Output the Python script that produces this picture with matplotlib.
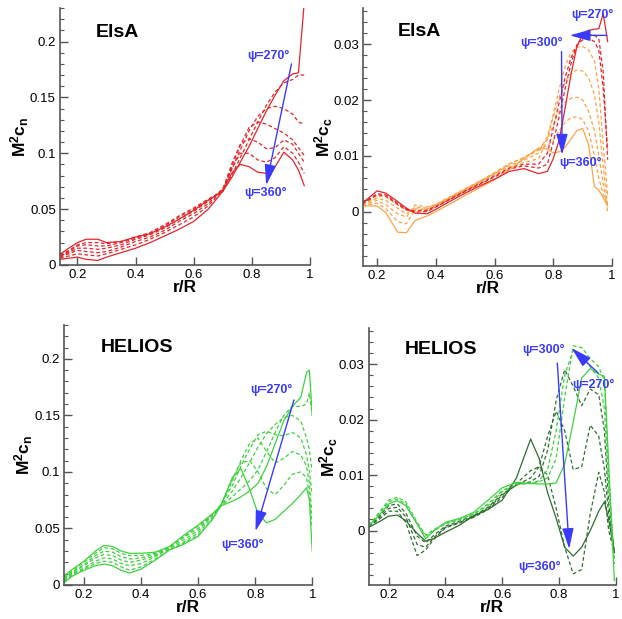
import matplotlib
matplotlib.use("Agg")
import matplotlib.pyplot as plt
from matplotlib.ticker import MultipleLocator, FuncFormatter

plt.rcParams['font.family'] = ['Liberation Sans', 'DejaVu Sans']
plt.rcParams['mathtext.fontset'] = 'custom'
plt.rcParams['mathtext.rm'] = 'Liberation Sans'
plt.rcParams['mathtext.bf'] = 'Liberation Sans:bold'

# ---------------- ElsA, M2cn ----------------
r_elsa_cn = [0.14, 0.17, 0.2, 0.23, 0.27, 0.3, 0.35, 0.4, 0.45, 0.5, 0.55, 0.6, 0.65,
             0.7, 0.73, 0.76, 0.79, 0.82, 0.85, 0.88, 0.91, 0.94, 0.96, 0.98]
elsa_cn_270 = [0.005, 0.006, 0.007, 0.005, 0.004, 0.007, 0.011, 0.015, 0.020, 0.026, 0.032, 0.039, 0.050,
               0.066, 0.078, 0.092, 0.106, 0.122, 0.138, 0.152, 0.165, 0.171, 0.172, 0.235]
elsa_cn_285 = [0.006, 0.008, 0.010, 0.009, 0.008, 0.010, 0.014, 0.018, 0.023, 0.029, 0.036, 0.043, 0.053,
               0.067, 0.080, 0.096, 0.112, 0.128, 0.143, 0.155, 0.163, 0.166, 0.170, 0.170]
elsa_cn_300 = [0.007, 0.010, 0.013, 0.012, 0.011, 0.012, 0.016, 0.021, 0.025, 0.031, 0.039, 0.046, 0.055,
               0.068, 0.085, 0.103, 0.120, 0.133, 0.140, 0.142, 0.140, 0.135, 0.128, 0.126]
elsa_cn_315 = [0.008, 0.011, 0.015, 0.015, 0.014, 0.015, 0.018, 0.023, 0.027, 0.033, 0.041, 0.048, 0.057,
               0.068, 0.088, 0.107, 0.123, 0.128, 0.126, 0.122, 0.118, 0.112, 0.105, 0.098]
elsa_cn_330 = [0.008, 0.012, 0.017, 0.018, 0.017, 0.017, 0.020, 0.024, 0.028, 0.035, 0.043, 0.050, 0.058,
               0.067, 0.090, 0.108, 0.113, 0.110, 0.104, 0.105, 0.112, 0.108, 0.100, 0.092]
elsa_cn_345 = [0.009, 0.013, 0.018, 0.020, 0.020, 0.019, 0.021, 0.025, 0.029, 0.036, 0.044, 0.051, 0.059,
               0.066, 0.086, 0.100, 0.100, 0.094, 0.092, 0.096, 0.106, 0.100, 0.092, 0.082]
elsa_cn_360 = [0.0095, 0.015, 0.020, 0.023, 0.023, 0.020, 0.021, 0.025, 0.028, 0.034, 0.041, 0.049, 0.058,
               0.066, 0.082, 0.090, 0.088, 0.083, 0.082, 0.088, 0.101, 0.094, 0.085, 0.071]

# ---------------- ElsA, M2cc ----------------
r_elsa_cc = [0.15, 0.2, 0.23, 0.27, 0.3, 0.33, 0.37, 0.4, 0.45, 0.5, 0.55, 0.6, 0.65, 0.7,
             0.75, 0.78, 0.8, 0.82, 0.84, 0.86, 0.88, 0.9, 0.92, 0.94, 0.955, 0.97, 0.985]
elsa_cc_270 = [0.0015, 0.0037, 0.0033, 0.0018, 0.0006, -0.0003, -0.0004, 0.0004, 0.0019, 0.0033, 0.0046, 0.0058, 0.0072, 0.0077,
               0.0068, 0.0072, 0.0095, 0.0128, 0.0185, 0.0245, 0.0295, 0.0318, 0.0325, 0.0327, 0.0328, 0.0355, 0.0305]
elsa_cc_280 = [0.0014, 0.0032, 0.0030, 0.0015, 0.0004, -0.0001, 0.0000, 0.0008, 0.0022, 0.0036, 0.0049, 0.0062, 0.0076, 0.0082,
               0.0078, 0.0085, 0.0125, 0.0170, 0.0220, 0.0265, 0.0298, 0.0315, 0.0318, 0.0316, 0.0310, 0.0250, 0.0093]
elsa_cc_290 = [0.0014, 0.0030, 0.0028, 0.0013, 0.0003, 0.0001, 0.0002, 0.0009, 0.0023, 0.0037, 0.0050, 0.0064, 0.0078, 0.0085,
               0.0085, 0.0105, 0.0150, 0.0195, 0.0240, 0.0275, 0.0298, 0.0308, 0.0310, 0.0305, 0.0290, 0.0220, 0.0110]
elsa_cc_300 = [0.0013, 0.0028, 0.0026, 0.0012, 0.0002, 0.0003, 0.0004, 0.0011, 0.0025, 0.0039, 0.0052, 0.0066, 0.0080, 0.0088,
               0.0095, 0.0130, 0.0175, 0.0220, 0.0260, 0.0285, 0.0295, 0.0296, 0.0290, 0.0270, 0.0220, 0.0120, 0.0030]
elsa_cc_315 = [0.0012, 0.0024, 0.0020, 0.0006, -0.0004, 0.0008, 0.0006, 0.0012, 0.0026, 0.0040, 0.0054, 0.0068, 0.0083, 0.0092,
               0.0105, 0.0135, 0.0170, 0.0205, 0.0232, 0.0248, 0.0254, 0.0252, 0.0240, 0.0210, 0.0160, 0.0080, 0.0010]
elsa_cc_330 = [0.0011, 0.0020, 0.0012, -0.0004, -0.0010, 0.0012, 0.0008, 0.0013, 0.0027, 0.0041, 0.0055, 0.0070, 0.0086, 0.0096,
               0.0110, 0.0130, 0.0155, 0.0180, 0.0196, 0.0203, 0.0205, 0.0200, 0.0180, 0.0145, 0.0100, 0.0050, 0.0000]
elsa_cc_345 = [0.0010, 0.0015, 0.0005, -0.0018, -0.0022, 0.0005, 0.0004, 0.0011, 0.0025, 0.0039, 0.0053, 0.0068, 0.0085, 0.0097,
               0.0112, 0.0118, 0.0128, 0.0145, 0.0160, 0.0168, 0.0170, 0.0165, 0.0145, 0.0100, 0.0060, 0.0030, 0.0015]
elsa_cc_360 = [0.0010, 0.0010, -0.0002, -0.0037, -0.0038, -0.0016, -0.0008, 0.0000, 0.0014, 0.0029, 0.0043, 0.0057, 0.0075, 0.0095,
               0.0114, 0.0112, 0.0105, 0.0107, 0.0115, 0.0130, 0.0145, 0.0149, 0.0120, 0.0045, 0.0038, 0.0025, 0.0010]

# ---------------- HELIOS, M2cn ----------------
r_helios_cn = [0.13, 0.16, 0.2, 0.24, 0.27, 0.3, 0.33, 0.36, 0.4, 0.45, 0.5, 0.55, 0.6,
               0.65, 0.68, 0.72, 0.75, 0.78, 0.81, 0.84, 0.87, 0.9, 0.93, 0.96, 0.98, 0.99, 1.0]
helios_cn_270 = [0.008, 0.014, 0.021, 0.030, 0.035, 0.034, 0.030, 0.028, 0.028, 0.029, 0.034, 0.044, 0.053,
                 0.063, 0.070, 0.074, 0.078, 0.083, 0.090, 0.105, 0.125, 0.145, 0.158, 0.166, 0.188, 0.190, 0.150]
helios_cn_285 = [0.007, 0.013, 0.020, 0.028, 0.033, 0.032, 0.028, 0.026, 0.026, 0.028, 0.034, 0.043, 0.052,
                 0.062, 0.070, 0.078, 0.085, 0.092, 0.102, 0.118, 0.135, 0.150, 0.158, 0.158, 0.160, 0.170, 0.150]
helios_cn_300 = [0.006, 0.012, 0.018, 0.026, 0.030, 0.029, 0.025, 0.023, 0.024, 0.027, 0.034, 0.042, 0.050,
                 0.062, 0.070, 0.083, 0.095, 0.108, 0.122, 0.134, 0.142, 0.148, 0.150, 0.145, 0.130, 0.120, 0.100]
helios_cn_315 = [0.005, 0.011, 0.017, 0.024, 0.027, 0.026, 0.022, 0.020, 0.022, 0.026, 0.033, 0.040, 0.048,
                 0.062, 0.071, 0.088, 0.105, 0.120, 0.133, 0.136, 0.133, 0.132, 0.135, 0.130, 0.115, 0.100, 0.080]
helios_cn_330 = [0.004, 0.010, 0.015, 0.021, 0.024, 0.023, 0.019, 0.017, 0.019, 0.025, 0.032, 0.038, 0.046,
                 0.060, 0.071, 0.092, 0.110, 0.125, 0.130, 0.118, 0.108, 0.112, 0.118, 0.115, 0.105, 0.090, 0.060]
helios_cn_345 = [0.003, 0.009, 0.014, 0.019, 0.021, 0.020, 0.016, 0.013, 0.016, 0.023, 0.031, 0.037, 0.044,
                 0.058, 0.071, 0.094, 0.108, 0.110, 0.100, 0.085, 0.080, 0.088, 0.098, 0.100, 0.095, 0.080, 0.050]
helios_cn_360 = [0.002, 0.008, 0.013, 0.017, 0.0185, 0.017, 0.013, 0.0105, 0.014, 0.022, 0.031, 0.036, 0.043,
                 0.058, 0.070, 0.095, 0.103, 0.085, 0.063, 0.055, 0.058, 0.065, 0.072, 0.080, 0.086, 0.075, 0.030]

# ---------------- HELIOS, M2cc ----------------
r_helios_cc = [0.13, 0.17, 0.2, 0.23, 0.26, 0.3, 0.33, 0.36, 0.4, 0.45, 0.5, 0.55, 0.6,
               0.65, 0.7, 0.73, 0.76, 0.79, 0.82, 0.85, 0.88, 0.91, 0.94, 0.96, 0.975, 0.995]
helios_cc_270 = [0.0008, 0.0030, 0.0048, 0.0054, 0.0045, 0.0012, -0.0015, 0.0000, 0.0015, 0.0022, 0.0033, 0.0055, 0.0077,
                 0.0087, 0.0085, 0.0084, 0.0084, 0.0086, 0.0120, 0.0195, 0.0275, 0.0292, 0.0282, 0.0278, 0.0120, -0.0090]
helios_cc_285 = [0.0009, 0.0035, 0.0055, 0.0060, 0.0052, 0.0015, -0.0008, 0.0002, 0.0013, 0.0020, 0.0030, 0.0048, 0.0072,
                 0.0085, 0.0085, 0.0088, 0.0095, 0.0130, 0.0240, 0.0333, 0.0330, 0.0310, 0.0295, 0.0270, 0.0100, -0.0060]
helios_cc_300 = [0.0009, 0.0033, 0.0052, 0.0057, 0.0048, 0.0012, -0.0010, 0.0000, 0.0012, 0.0020, 0.0030, 0.0045, 0.0070,
                 0.0083, 0.0085, 0.0090, 0.0110, 0.0180, 0.0280, 0.0325, 0.0315, 0.0295, 0.0275, 0.0220, 0.0080, -0.0050]
helios_cc_315 = [0.0008, 0.0028, 0.0045, 0.0048, 0.0032, -0.0010, -0.0022, -0.0008, 0.0008, 0.0017, 0.0027, 0.0042, 0.0066,
                 0.0082, 0.0088, 0.0098, 0.0145, 0.0235, 0.0290, 0.0260, 0.0225, 0.0255, 0.0245, 0.0180, 0.0050, -0.0040]
helios_cc_330 = [0.0008, 0.0025, 0.0040, 0.0042, 0.0025, -0.0025, -0.0030, -0.0012, 0.0006, 0.0015, 0.0025, 0.0040, 0.0064,
                 0.0082, 0.0095, 0.0115, 0.0170, 0.0215, 0.0180, 0.0110, 0.0115, 0.0190, 0.0170, 0.0110, 0.0030, -0.0040]
helios_cc_345 = [0.0007, 0.0022, 0.0035, 0.0035, 0.0015, -0.0045, -0.0035, -0.0015, 0.0005, 0.0014, 0.0024, 0.0038, 0.0060,
                 0.0085, 0.0108, 0.0115, 0.0100, 0.0040, -0.0030, -0.0078, -0.0070, 0.0030, 0.0105, 0.0070, 0.0000, -0.0040]
helios_cc_360 = [0.0006, 0.0017, 0.0026, 0.0028, 0.0018, -0.0005, -0.0019, -0.0014, -0.0003, 0.0010, 0.0027, 0.0038, 0.0055,
                 0.0095, 0.0165, 0.0130, 0.0068, 0.0022, -0.0030, -0.0046, -0.0030, 0.0000, 0.0035, 0.0052, 0.0020, -0.0040]

RED = '#e5262b'
ORANGE = '#ffa347'
LGREEN = '#3fd23f'
DGREEN = '#2f6f2f'
BLUE = '#3a3aff'
AXCOL = '#555555'
DASH = (0, (3, 2))


def tick_fmt(v, pos):
    v = round(v, 6) + 0.0
    return f"{v:g}"


def style_axis(ax, xlim, ylim, ymajor, yminor, ylabel):
    ax.set_xlim(*xlim)
    ax.set_ylim(*ylim)
    ax.spines['top'].set_visible(False)
    ax.spines['right'].set_visible(False)
    for s in ['left', 'bottom']:
        ax.spines[s].set_color(AXCOL)
        ax.spines[s].set_linewidth(1.2)
    ax.xaxis.set_major_locator(MultipleLocator(0.2))
    ax.yaxis.set_major_locator(MultipleLocator(ymajor))
    ax.yaxis.set_minor_locator(MultipleLocator(yminor))
    ax.xaxis.set_major_formatter(FuncFormatter(tick_fmt))
    ax.yaxis.set_major_formatter(FuncFormatter(tick_fmt))
    ax.tick_params(which='major', direction='in', length=6, width=1, color=AXCOL, labelsize=9.5, pad=3)
    ax.tick_params(which='minor', direction='in', length=3, width=0.8, color=AXCOL)
    ax.set_xlabel('r/R', fontsize=12.5, fontweight='bold', labelpad=-1)
    ax.set_ylabel(ylabel, fontsize=12.5, labelpad=-1)


def draw_curves(ax, r, curves):
    for vals, color, ls in curves:
        ax.plot(r, vals, color=color, linestyle=ls, linewidth=0.9)


def arrow(ax, head, tail):
    ax.annotate('', xy=head, xytext=tail,
                arrowprops=dict(arrowstyle='-|>,head_length=0.9,head_width=0.25', color=BLUE,
                                lw=1.0, mutation_scale=14, shrinkA=0, shrinkB=0))


def psi_label(ax, x, y, txt):
    ax.text(x, y, txt, color=BLUE, fontsize=9, fontweight='bold', ha='center', va='center',
            clip_on=False)


fig = plt.figure(figsize=(6.22, 6.19), dpi=100)
ax1 = fig.add_axes([0.0965, 0.572, 0.402, 0.415])
ax2 = fig.add_axes([0.584, 0.570, 0.400, 0.417])
ax3 = fig.add_axes([0.103, 0.055, 0.399, 0.420])
ax4 = fig.add_axes([0.593, 0.055, 0.397, 0.415])

# top left
draw_curves(ax1, r_elsa_cn, [
    (elsa_cn_285, RED, DASH), (elsa_cn_300, RED, DASH), (elsa_cn_315, RED, DASH),
    (elsa_cn_330, RED, DASH), (elsa_cn_345, RED, DASH),
    (elsa_cn_270, RED, '-'), (elsa_cn_360, RED, '-'),
])
style_axis(ax1, (0.14, 1.0), (0, 0.23), 0.05, 0.01, r'$\mathbf{M^2c_n}$')
ax1.text(0.336, 0.208, 'ElsA', fontsize=14, fontweight='bold', ha='center', va='center')
arrow(ax1, (0.849, 0.0714), (0.936, 0.180))
psi_label(ax1, 0.855, 0.1875, 'ψ=270°')
psi_label(ax1, 0.846, 0.064, 'ψ=360°')

# top right
draw_curves(ax2, r_elsa_cc, [
    (elsa_cc_315, ORANGE, DASH), (elsa_cc_330, ORANGE, DASH), (elsa_cc_345, ORANGE, DASH),
    (elsa_cc_300, ORANGE, DASH),
    (elsa_cc_280, RED, DASH), (elsa_cc_290, RED, DASH),
    (elsa_cc_360, ORANGE, '-'), (elsa_cc_270, RED, '-'),
])
style_axis(ax2, (0.153, 1.0), (-0.0098, 0.0365), 0.01, 0.002, r'$\mathbf{M^2c_c}$')
ax2.text(0.343, 0.0323, 'ElsA', fontsize=14, fontweight='bold', ha='center', va='center')
arrow(ax2, (0.856, 0.0316), (0.9825, 0.0316))
arrow(ax2, (0.83, 0.0102), (0.828, 0.0287))
psi_label(ax2, 0.934, 0.0353, 'ψ=270°')
psi_label(ax2, 0.759, 0.0302, 'ψ=300°')
psi_label(ax2, 0.893, 0.0087, 'ψ=360°')

# bottom left
draw_curves(ax3, r_helios_cn, [
    (helios_cn_285, LGREEN, DASH), (helios_cn_300, LGREEN, DASH), (helios_cn_315, LGREEN, DASH),
    (helios_cn_330, LGREEN, DASH), (helios_cn_345, LGREEN, DASH),
    (helios_cn_270, LGREEN, '-'), (helios_cn_360, LGREEN, '-'),
])
style_axis(ax3, (0.13, 1.0), (0, 0.23), 0.05, 0.01, r'$\mathbf{M^2c_n}$')
ax3.text(0.3845, 0.21, 'HELIOS', fontsize=14, fontweight='bold', ha='center', va='center')
arrow(ax3, (0.801, 0.0476), (0.936, 0.1637))
psi_label(ax3, 0.856, 0.1726, 'ψ=270°')
psi_label(ax3, 0.754, 0.0357, 'ψ=360°')

# bottom right
draw_curves(ax4, r_helios_cc, [
    (helios_cc_315, DGREEN, DASH), (helios_cc_330, DGREEN, DASH), (helios_cc_345, DGREEN, DASH),
    (helios_cc_285, LGREEN, DASH), (helios_cc_300, LGREEN, DASH),
    (helios_cc_360, DGREEN, '-'), (helios_cc_270, LGREEN, '-'),
])
style_axis(ax4, (0.13, 1.0), (-0.0098, 0.0365), 0.01, 0.002, r'$\mathbf{M^2c_c}$')
ax4.text(0.384, 0.0326, 'HELIOS', fontsize=14, fontweight='bold', ha='center', va='center')
arrow(ax4, (0.836, -0.0033), (0.794, 0.0302))
arrow(ax4, (0.844, 0.0329), (0.938, 0.0284))
psi_label(ax4, 0.745, 0.0326, 'ψ=300°')
psi_label(ax4, 0.92, 0.0263, 'ψ=270°')
psi_label(ax4, 0.733, -0.0066, 'ψ=360°')

fig.savefig('out.png', dpi=100)
